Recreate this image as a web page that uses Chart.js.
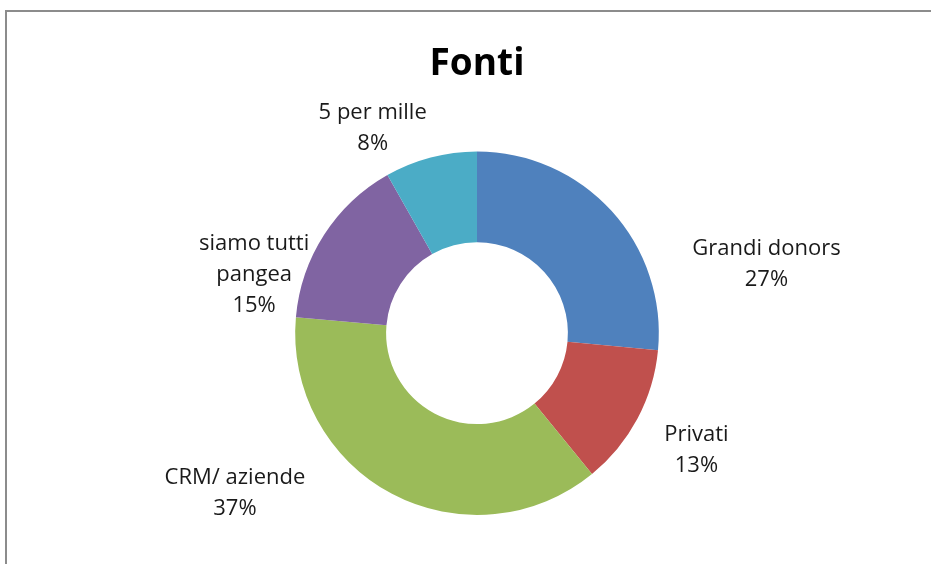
<!DOCTYPE html>
<html lang="it">
<head>
  <meta charset="UTF-8">
  <title>Fonti</title>
  <script src="https://cdn.jsdelivr.net/npm/chart.js"></script>
  <style>
    body { margin: 0; background: #fff; overflow: hidden; }
    .cornice {
      position: absolute;
      left: 5px;
      top: 10px;
      width: 940px;
      height: 600px;
      border: 2px solid #8c8c8c;
    }
    .cornice canvas { display: block; }
  </style>
</head>
<body>
  <div class="cornice">
    <canvas id="grafico" width="940" height="552"></canvas>
  </div>

<script>
  // dati (percentuali stimate dagli angoli delle fette)
  const categorie = ['Grandi donors', 'Privati', 'CRM/ aziende', ['siamo tutti', 'pangea'], '5 per mille'];
  const valori = [26.5, 12.6, 37.3, 15.4, 8.2];
  const colori = ['#4F81BD', '#C0504D', '#9BBB59', '#8064A2', '#4BACC6'];

  // spostamento delle etichette rispetto al bordo esterno della fetta
  const spostamenti = [[155, 53], [59, 31], [-157, -1], [-70, 40], [-58, -29]];

  const etichetteEsterne = {
    id: 'etichetteEsterne',
    afterDatasetsDraw(chart) {
      const ctx = chart.ctx;
      const meta = chart.getDatasetMeta(0);
      const totale = valori.reduce((a, b) => a + b, 0);
      ctx.save();
      ctx.font = '22px "Open Sans"';
      ctx.fillStyle = '#1a1a1a';
      ctx.textAlign = 'center';
      ctx.textBaseline = 'middle';
      meta.data.forEach((arco, i) => {
        const p = arco.getProps(['x', 'y', 'startAngle', 'endAngle', 'outerRadius'], true);
        const medio = (p.startAngle + p.endAngle) / 2;
        const x = p.x + Math.cos(medio) * p.outerRadius + spostamenti[i][0];
        const y = p.y + Math.sin(medio) * p.outerRadius + spostamenti[i][1];
        let righe = [].concat(categorie[i]);
        const perc = Number((valori[i] / totale * 100).toFixed(2));
        righe.push(Math.round(perc) + '%');
        const alt = 31;
        const inizio = y - (righe.length - 1) * alt / 2;
        righe.forEach((r, k) => ctx.fillText(r, x, inizio + k * alt));
      });
      ctx.restore();
    }
  };

  new Chart(document.getElementById('grafico'), {
    type: 'doughnut',
    data: {
      labels: categorie,
      datasets: [{
        data: valori,
        backgroundColor: colori,
        borderWidth: 0
      }]
    },
    options: {
      responsive: false,
      animation: false,
      cutout: '50%',
      layout: { padding: { bottom: 49 } },
      plugins: {
        legend: { display: false },
        tooltip: { enabled: false },
        title: {
          display: true,
          text: 'Fonti',
          color: '#000',
          font: { family: '"Open Sans"', size: 37, weight: 'bold', lineHeight: 1.2 },
          padding: { top: 30, bottom: 65 }
        }
      }
    },
    plugins: [etichetteEsterne]
  });
</script>
</body>
</html>
